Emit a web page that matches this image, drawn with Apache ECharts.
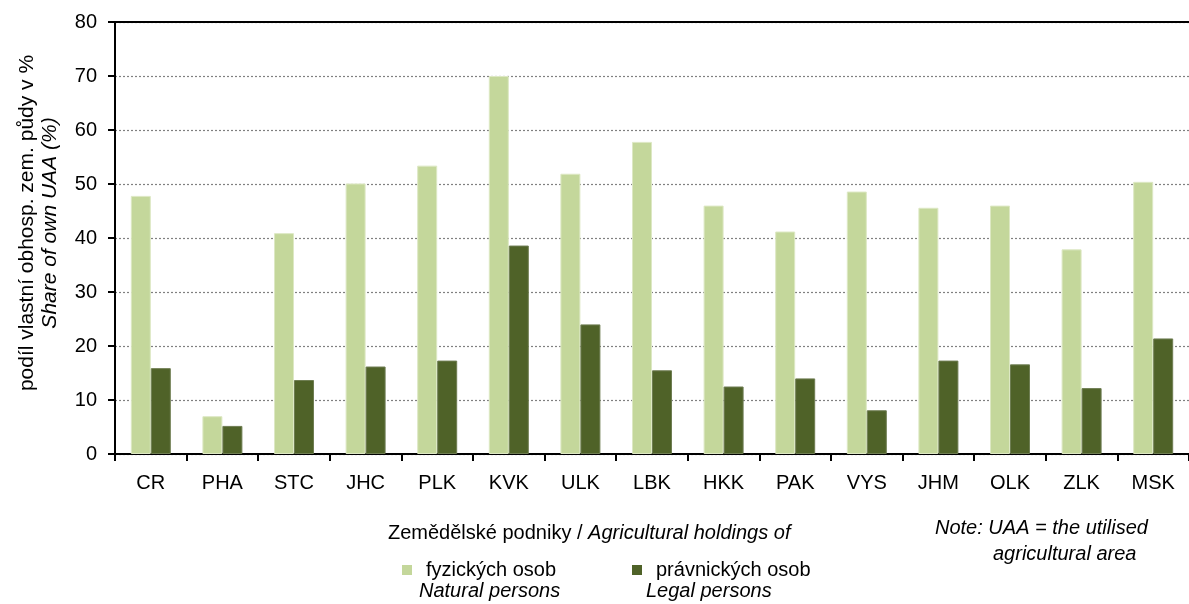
<!DOCTYPE html>
<html>
<head>
<meta charset="utf-8">
<script src="https://cdn.jsdelivr.net/npm/echarts@6/dist/echarts.min.js"></script>
<style>
html,body{margin:0;padding:0;background:#fff;overflow:hidden;}
#c{width:1189px;height:604px;}
</style>
</head>
<body>
<div id="c"></div>
<script>
const categories = ['CR','PHA','STC','JHC','PLK','KVK','ULK','LBK','HKK','PAK','VYS','JHM','OLK','ZLK','MSK'];
const natural = [47.8, 7.0, 40.9, 50.1, 53.4, 70.0, 51.9, 57.8, 46.0, 41.2, 48.6, 45.6, 46.0, 37.9, 50.4];
const legal   = [15.9, 5.2, 13.7, 16.2, 17.3, 38.6, 24.0, 15.5, 12.5, 14.0, 8.1, 17.3, 16.6, 12.2, 21.4];
const yTicks = [0,10,20,30,40,50,60,70,80];
const seriesNames = ['fyzických osob','právnických osob'];

const FONT = '"Liberation Sans", Arial, sans-serif';
const FS = 20;
const chart = echarts.init(document.getElementById('c'), null, {renderer:'canvas'});
chart.setOption({
  animation:false,
  backgroundColor:'#fff',
  textStyle:{fontFamily:FONT},
  grid:{left:115, width:1088, top:22, bottom:150},
  legend:[
    {data:[seriesNames[0]], left:397, top:555, icon:'rect', itemWidth:10, itemHeight:10, itemGap:0,
     itemStyle:{borderWidth:0},
     textStyle:{fontFamily:FONT, fontSize:FS, color:'#000', padding:[0,0,0,9]}},
    {data:[seriesNames[1]], left:627, top:555, icon:'rect', itemWidth:10, itemHeight:10, itemGap:0,
     itemStyle:{borderWidth:0},
     textStyle:{fontFamily:FONT, fontSize:FS, color:'#000', padding:[0,0,0,9]}}
  ],
  xAxis:[{
    type:'category', data:categories, position:'bottom',
    axisLine:{show:true, lineStyle:{color:'#000', width:2}},
    axisTick:{show:true, alignWithLabel:false, interval:0, length:7, lineStyle:{color:'#000', width:2}},
    axisLabel:{interval:0, color:'#000', fontSize:FS, fontFamily:FONT, margin:19},
    splitLine:{show:false}
  },{
    type:'category', data:categories, position:'top',
    axisLine:{show:true, lineStyle:{color:'#000', width:2}},
    axisTick:{show:false}, axisLabel:{show:false}, splitLine:{show:false}
  }],
  yAxis:{
    type:'value', min:yTicks[0], max:yTicks[yTicks.length-1], interval:10,
    axisLine:{show:true, lineStyle:{color:'#000', width:2}},
    axisTick:{show:true, length:7, lineStyle:{color:'#000', width:2}},
    axisLabel:{color:'#000', fontSize:FS, fontFamily:FONT, margin:18},
    splitLine:{show:true, lineStyle:{color:'#808080', type:[2,2], width:1.2}}
  },
  series:[
    {name:seriesNames[0], type:'bar', data:natural, barWidth:20, barGap:'0%',
     itemStyle:{color:'#c4d79b', borderColor:'#dde8c4', borderWidth:1}},
    {name:seriesNames[1], type:'bar', data:legal, barWidth:20,
     itemStyle:{color:'#4f6228', borderColor:'#6e7d52', borderWidth:1}}
  ],
  graphic:[
    {type:'text', rotation:Math.PI/2, x:27, y:223, style:{
      text:'podíl vlastní obhosp. zem. půdy v %', fontSize:21, fontFamily:FONT, fill:'#000',
      textAlign:'center', textVerticalAlign:'middle'}},
    {type:'text', rotation:Math.PI/2, x:50, y:223, style:{
      text:'Share of own UAA (%)', fontSize:21, fontStyle:'italic', fontFamily:FONT, fill:'#000',
      textAlign:'center', textVerticalAlign:'middle'}},
    {type:'text', x:388, y:523, style:{rich:{
        a:{fontSize:FS, fontFamily:FONT, fill:'#000'},
        b:{fontSize:FS, fontFamily:FONT, fontStyle:'italic', fill:'#000'}},
      text:'{a|Zemědělské podniky / }{b|Agricultural holdings of}'}},
    {type:'text', x:419, y:581, style:{text:'Natural persons', fontSize:FS, fontStyle:'italic', fontFamily:FONT, fill:'#000'}},
    {type:'text', x:646, y:581, style:{text:'Legal persons', fontSize:FS, fontStyle:'italic', fontFamily:FONT, fill:'#000'}},
    {type:'text', x:935, y:518, style:{text:'Note: UAA = the utilised', fontSize:FS, fontStyle:'italic', fontFamily:FONT, fill:'#000'}},
    {type:'text', x:993, y:544, style:{text:'agricultural area', fontSize:FS, fontStyle:'italic', fontFamily:FONT, fill:'#000'}}
  ]
});
</script>
</body>
</html>
